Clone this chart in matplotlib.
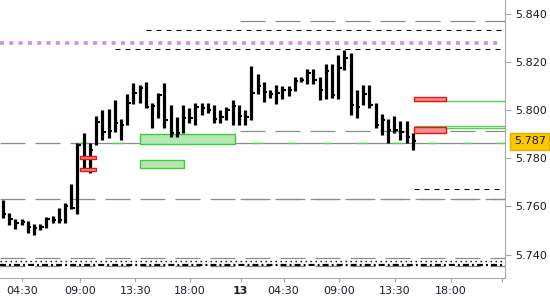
import matplotlib
matplotlib.use("Agg")
import matplotlib.pyplot as plt
from matplotlib.patches import Rectangle

plt.rcParams['lines.scale_dashes'] = False
plt.rcParams['font.family'] = 'DejaVu Sans'

# 30 minute bars (high / low / close)
highs = [5.7627, 5.7573, 5.7548, 5.7548, 5.7539, 5.7527, 5.7527, 5.7556, 5.7560, 5.7593,
         5.7614, 5.7693, 5.7863, 5.7905, 5.7863, 5.7975, 5.8000, 5.8004, 5.8042, 5.7963,
         5.8066, 5.8112, 5.8104, 5.8116, 5.8029, 5.8071, 5.8112, 5.8021, 5.7971, 5.8021,
         5.8008, 5.8029, 5.8029, 5.8029, 5.8021, 5.8000, 5.8012, 5.8042, 5.8021, 5.8000,
         5.8183, 5.8149, 5.8116, 5.8083, 5.8104, 5.8100, 5.8100, 5.8137, 5.8137, 5.8170,
         5.8170, 5.8137, 5.8191, 5.8191, 5.8228, 5.8249, 5.8237, 5.8083, 5.8104, 5.8104,
         5.8029, 5.7983, 5.7963, 5.7975, 5.7954, 5.7954, 5.7905]
lows = [5.7552, 5.7523, 5.7506, 5.7523, 5.7490, 5.7481, 5.7502, 5.7510, 5.7531, 5.7531,
        5.7531, 5.7589, 5.7568, 5.7751, 5.7739, 5.7855, 5.7876, 5.7884, 5.7909, 5.7876,
        5.7938, 5.8025, 5.8029, 5.8008, 5.7925, 5.7967, 5.7925, 5.7888, 5.7888, 5.7905,
        5.7946, 5.7938, 5.7979, 5.7988, 5.7946, 5.7946, 5.7959, 5.7938, 5.7938, 5.7938,
        5.7959, 5.8066, 5.8033, 5.8050, 5.8025, 5.8046, 5.8058, 5.8079, 5.8116, 5.8108,
        5.8108, 5.8042, 5.8046, 5.8050, 5.8046, 5.8166, 5.7979, 5.7967, 5.8021, 5.8008,
        5.7925, 5.7896, 5.7863, 5.7905, 5.7876, 5.7863, 5.7834]
closes = [5.7568, 5.7548, 5.7531, 5.7535, 5.7514, 5.7510, 5.7514, 5.7548, 5.7544, 5.7544,
          5.7602, 5.7593, 5.7855, 5.7805, 5.7834, 5.7950, 5.7909, 5.7913, 5.7946, 5.7938,
          5.8029, 5.8071, 5.8091, 5.8012, 5.8017, 5.8062, 5.7959, 5.7905, 5.7905, 5.7967,
          5.7967, 5.8012, 5.8008, 5.8000, 5.7963, 5.7971, 5.8000, 5.8017, 5.7975, 5.7971,
          5.8071, 5.8100, 5.8075, 5.8066, 5.8071, 5.8083, 5.8083, 5.8120, 5.8125, 5.8154,
          5.8125, 5.8083, 5.8162, 5.8062, 5.8174, 5.8216, 5.8021, 5.8012, 5.8066, 5.8021,
          5.7938, 5.7959, 5.7917, 5.7917, 5.7909, 5.7888, 5.7871]

tick_pos = [3.06, 12.4, 21.3, 30.1, 38.3, 45.2, 54.1, 63.1, 72.1, 80.4]
tick_labels = ["04:30", "09:00", "13:30", "18:00", "13", "04:30", "09:00", "13:30", "18:00", ""]
price_ticks = [5.740, 5.760, 5.780, 5.800, 5.820, 5.840]
last_price = 5.787

# levels
current_line = 5.7862
gray_levels_full = [5.7631]
gray_levels_day = [5.8369, 5.7913, 5.7633]
black_dash_levels = [(5.8332, 23.0), (5.8253, 18.0), (5.7672, 66.2)]
purple_level = 5.8278
bottom_gray = [5.7386, 5.7353]
bottom_dotted = 5.7373
bottom_dashdot = 5.7357
green_zones = [(22.1, 37.4, 5.7859, 5.7900), (22.1, 29.1, 5.7759, 5.7793)]
red_zones = [(12.4, 15.0, 5.7797, 5.7809), (12.4, 15.0, 5.7747, 5.7759),
             (66.2, 71.3, 5.8037, 5.8054), (66.2, 71.3, 5.7905, 5.7929)]
green_lines = [5.8037, 5.7934, 5.7925]

fig = plt.figure(figsize=(5.5, 3), dpi=100)
ax = fig.add_axes([0, 0.0733, 0.918, 0.9267])
xmin, xmax = -0.48, 80.84
ax.set_xlim(xmin, xmax)
ax.set_ylim(5.7303, 5.8457)

gcol = '#8c8c8c'
for lv in gray_levels_full:
    ax.hlines(lv, xmin, xmax, color=gcol, lw=0.9, linestyles=(0, (18, 7.2)))
for lv in gray_levels_day:
    ax.hlines(lv, 38.2, xmax, color=gcol, lw=0.9, linestyles=(0, (18, 7.2)))
ax.hlines(current_line, xmin, 11.9, color=gcol, lw=0.9, linestyles=(0, (18, 7.2)))
ax.hlines(current_line, 11.9, xmax, color=gcol, lw=0.9)
ax.hlines(current_line, 11.9, xmax, color='#44dd44', lw=1.0, linestyles=(0, (7.2, 18)))

for lv, x0 in black_dash_levels:
    ax.hlines(lv, x0, 80.4, color='black', lw=0.75, linestyles=(0, (3.6, 3.6)))
ax.hlines(purple_level, xmin, 80.0, color='#c890e8', lw=2.6, linestyles=(0, (2.9, 3.8)))

for lv in bottom_gray:
    ax.hlines(lv, xmin, xmax, color=gcol, lw=0.9, linestyles=(0, (18, 7.2)))
ax.hlines(bottom_dotted, xmin, xmax, color='black', lw=1.0, linestyles=(0, (1.0, 2.6)))
ax.hlines(bottom_dashdot, xmin, xmax, color='black', lw=1.6, linestyles=(0, (4.3, 2.2, 1.4, 2.2)))

for x0, x1, y0, y1 in green_zones:
    ax.add_patch(Rectangle((x0, y0), x1 - x0, y1 - y0, facecolor='#b4e8b0', edgecolor='#3ccc3c', lw=1.0, zorder=2))
for lv in green_lines:
    ax.hlines(lv, 66.2, xmax, color='#55cc55', lw=1.0)

# bars
idx = list(range(len(highs)))
ax.vlines(idx, lows, highs, color='black', lw=2.3, zorder=4)
ax.hlines(closes, [i + 0.15 for i in idx], [i + 0.55 for i in idx], color='black', lw=1.5, zorder=4)

for x0, x1, y0, y1 in red_zones:
    ax.add_patch(Rectangle((x0, y0), x1 - x0, y1 - y0, facecolor='#f39090', edgecolor='#ee1111', lw=1.0, zorder=5))

for s in ['left', 'top']:
    ax.spines[s].set_visible(False)
for s in ['right', 'bottom']:
    ax.spines[s].set_color('#a8a8a8')
ax.yaxis.tick_right()
ax.set_yticks(price_ticks)
ax.set_yticklabels(["%.3f" % v for v in price_ticks])
ax.tick_params(axis='y', length=4.5, color='#a8a8a8', labelsize=8, labelcolor='#1a1a1a', pad=3)
ax.set_xticks(tick_pos)
ax.set_xticklabels(tick_labels)
ax.tick_params(axis='x', length=3, color='#a8a8a8', labelsize=8, labelcolor='#1a2030', pad=3)
for lab in ax.get_xticklabels():
    if lab.get_text() == "13":
        lab.set_fontweight('bold')

ax.annotate("%.3f" % last_price, xy=(1, last_price), xycoords=('axes fraction', 'data'),
            xytext=(9, 0), textcoords='offset pixels', va='center', ha='left', fontsize=8,
            color='#1a1a1a', bbox=dict(boxstyle='square,pad=0.32', facecolor='#fcc800', edgecolor='#e0b000'),
            annotation_clip=False, zorder=10)

fig.savefig("out.png", dpi=100)
